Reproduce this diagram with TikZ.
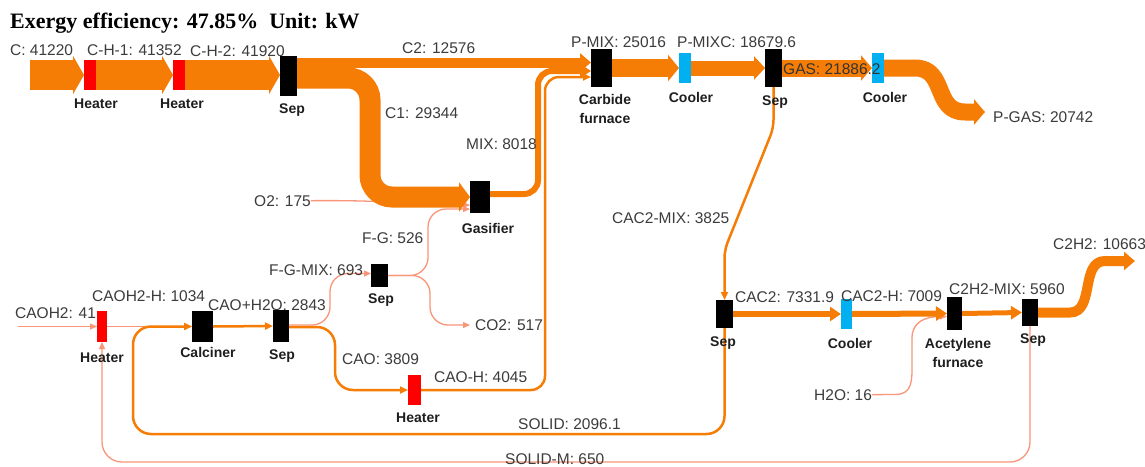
\documentclass[tikz,border=0pt]{standalone}
\usepackage{fontspec}
\setmainfont{Liberation Sans}
\newfontfamily\titlefont{Liberation Serif}
\usetikzlibrary{arrows.meta,calc}
\definecolor{band}{RGB}{245,125,5}
\definecolor{thinc}{RGB}{250,150,120}
\definecolor{heat}{RGB}{255,0,0}
\definecolor{cool}{RGB}{0,176,240}
\definecolor{txt}{RGB}{60,60,60}
\definecolor{ulabc}{RGB}{30,30,30}
\pgfdeclarelayer{bg}
\pgfsetlayers{bg,main}
\tikzset{
  blkbox/.style={fill=black,inner sep=0,outer sep=0},
  heatbox/.style={fill=heat,inner sep=0,outer sep=0},
  coolbox/.style={fill=cool,inner sep=0,outer sep=0},
  ulab/.style={anchor=base,inner sep=0,font=\fontsize{14}{16}\selectfont\bfseries,text=ulabc},
  flab/.style={anchor=base west,inner sep=0,font=\fontsize{15.5}{17}\selectfont,text=txt},
  bandflow/.style={draw=band,line width=#1,-{Triangle[length=11pt,width=8pt 1]}},
  flow/.style={draw=band,line width=2.5pt,-{Triangle[length=8pt,width=7pt]}},
  thinflow/.style={draw=thinc,line width=1.3pt,-{Triangle[length=7pt,width=6pt]}}
}
\begin{document}
\begin{tikzpicture}[x=1pt,y=-1pt]
\begin{pgfonlayer}{bg}
\fill[white] (0,0) rectangle (1145,466);
\end{pgfonlayer}
\useasboundingbox (0,0) rectangle (1145,466);

% title
\node[anchor=base west,inner sep=0,font=\titlefont\fontsize{22}{24}\selectfont\bfseries] (title) at (10,28) {Exergy efficiency: 47.85\%\ \ Unit: kW};

% units
\node[heatbox,minimum width=12pt,minimum height=30pt] (heatA) at (90,75) {};
\node[heatbox,minimum width=12pt,minimum height=30pt] (heatB) at (179,75) {};
\node[blkbox,minimum width=17pt,minimum height=40pt] (sepA) at (288.5,76) {};
\node[blkbox,minimum width=20pt,minimum height=32pt] (gasif) at (480,197) {};
\node[blkbox,minimum width=21pt,minimum height=38pt] (carb) at (601.5,68) {};
\node[coolbox,minimum width=12pt,minimum height=30pt] (coolA) at (685,68) {};
\node[blkbox,minimum width=17pt,minimum height=38pt] (sepB) at (773.5,68) {};
\node[coolbox,minimum width=12pt,minimum height=30pt] (coolB) at (878,68) {};
\node[blkbox,minimum width=17pt,minimum height=28pt] (sepC) at (724.5,314) {};
\node[coolbox,minimum width=11pt,minimum height=30pt] (coolC) at (846.5,314) {};
\node[blkbox,minimum width=15pt,minimum height=33pt] (acet) at (954.5,313.5) {};
\node[blkbox,minimum width=16pt,minimum height=27pt] (sepD) at (1030,312.5) {};
\node[heatbox,minimum width=10pt,minimum height=31pt] (heatC) at (102,326.5) {};
\node[blkbox,minimum width=21pt,minimum height=31pt] (calcn) at (202.5,326.5) {};
\node[blkbox,minimum width=16pt,minimum height=32pt] (sepE) at (281,326) {};
\node[blkbox,minimum width=17pt,minimum height=23pt] (sepF) at (379.5,275.5) {};
\node[heatbox,minimum width=13pt,minimum height=30pt] (heatD) at (414.5,390) {};

% unit labels
\node[ulab] (lheatA) at (96,108) {Heater};
\node[ulab] (lheatB) at (182,108) {Heater};
\node[ulab] (lsepA) at (292,113) {Sep};
\node[ulab] (lgasif) at (488,233) {Gasifier};
\node[ulab] (lcarb1) at (605,104) {Carbide};
\node[ulab] (lcarb2) at (605,123) {furnace};
\node[ulab] (lcoolA) at (691,102) {Cooler};
\node[ulab] (lsepB) at (775,105) {Sep};
\node[ulab] (lcoolB) at (885,102) {Cooler};
\node[ulab] (lsepC) at (723,346) {Sep};
\node[ulab] (lcoolC) at (850,348) {Cooler};
\node[ulab] (lacet1) at (958,348) {Acetylene};
\node[ulab] (lacet2) at (958,367) {furnace};
\node[ulab] (lsepD) at (1033,343) {Sep};
\node[ulab] (lheatC) at (102,362) {Heater};
\node[ulab] (lcalcn) at (208,357) {Calciner};
\node[ulab] (lsepE) at (282,359) {Sep};
\node[ulab] (lsepF) at (381,303) {Sep};
\node[ulab] (lheatD) at (418,422) {Heater};

% flow labels
\node[flab] (fC) at (10,55.5) {C: 41220};
\node[flab] (fCH1) at (87,55.5) {C-H-1: 41352};
\node[flab] (fCH2) at (190,56) {C-H-2: 41920};
\node[flab] (fC2) at (402,53) {C2: 12576};
\node[flab] (fC1) at (385,118) {C1: 29344};
\node[flab] (fMIX) at (466,149) {MIX: 8018};
\node[flab] (fPMIX) at (571,47.5) {P-MIX: 25016};
\node[flab] (fPMIXC) at (677,47.5) {P-MIXC: 18679.6};
\node[flab] (fPGAS) at (993,122.5) {P-GAS: 20742};
\node[flab] (o2Lab) at (254,206) {O2: 175};
\node[flab] (fFG) at (362,243.5) {F-G: 526};
\node[flab] (fFGMIX) at (269,275) {F-G-MIX: 693};
\node[flab] (fCAOH2O) at (208,310) {CAO+H2O: 2843};
\node[flab] (fCO2) at (475,330.5) {CO2: 517};
\node[flab] (fCAOH2) at (15,318.5) {CAOH2: 41};
\node[flab] (fCAOH2H) at (92,301.5) {CAOH2-H: 1034};
\node[flab] (fCAO) at (342,364) {CAO: 3809};
\node[flab] (fCAOH) at (434,382.5) {CAO-H: 4045};
\node[flab] (fSOLID) at (518,429.5) {SOLID: 2096.1};
\node[flab] (fSOLIDM) at (505,464) {SOLID-M: 650};
\node[flab] (fCAC2MIX) at (612,223.5) {CAC2-MIX: 3825};
\node[flab] (fCAC2) at (735,302.5) {CAC2: 7331.9};
\node[flab] (fCAC2H) at (841,301.5) {CAC2-H: 7009};
\node[flab] (fC2H2MIX) at (949,294) {C2H2-MIX: 5960};
\node[flab] (fC2H2) at (1053,249.5) {C2H2: 10663};
\node[flab] (h2oLab) at (814,400) {H2O: 16};
\node[flab,text=black!80] (fGAS) at (783,74.5) {GAS: 21886.2};

% free ends
\coordinate (cIn) at (30,75);
\coordinate (caohIn) at (18,326.5);
\coordinate (pgasEnd) at (985,112);
\coordinate (c2h2End) at (1135,261);
\coordinate (co2End) at (470,325);

\begin{pgfonlayer}{bg}
% thin flows
\draw[thinflow] (o2Lab.east) .. controls (400,200) and (400,205) .. ($(gasif.west)+(0,8)$);
\draw[thinflow,rounded corners=18pt] (sepF.east) -| (428,209) -- ($(gasif.west)+(0,12)$);
\draw[thinflow,rounded corners=18pt] (sepF.east) -| (430,325) -- (co2End);
\draw[thinflow,rounded corners=18pt] ($(sepE.east)+(0,-1)$) -| (330,273.5) -- ($(sepF.west)+(0,-2)$);
\draw[thinflow] (caohIn) -- (heatC.west);
\draw[thinflow] (heatC.east) -- (calcn.west);
\draw[thinflow,rounded corners=20pt] (sepD.south) |- (102,462) -- (heatC.south);
\draw[thinflow] (h2oLab.east) -- (895,394.5) .. controls (913,394.5) and (912,380) .. (912,362) -- (912,338) .. controls (912,322) and (925,316.5) .. ($(acet.west)+(0,3)$);
% medium flows
\draw[flow] (calcn.east) -- (sepE.west);
\draw[flow,rounded corners=18pt] ($(sepE.east)+(0,1)$) -| (335,390) -- (heatD.west);
\draw[flow,rounded corners=18pt] (sepC.south) |- (133,434) |- (calcn.west);
\draw[flow,rounded corners=8pt] (sepB.south) -- (773.5,128) -- (724.5,250) -- (sepC.north);
\draw[flow,rounded corners=14pt] (heatD.east) -| (545,77) -- ($(carb.west)+(0,9)$);
% bands
\draw[bandflow=30pt] (cIn) -- (heatA.west);
\draw[bandflow=30pt] (heatA.east) -- (heatB.west);
\draw[bandflow=30pt] (heatB.east) -- ($(sepA.west)+(0,-1)$);
\draw[bandflow=10pt] ($(sepA.east)+(0,-13.5)$) -- ($(carb.west)+(0,-5.5)$);
\draw[bandflow=21pt,rounded corners=22pt] ($(sepA.east)+(0,2)$) -| (370,197) -- (gasif.west);
\draw[bandflow=6pt,rounded corners=14pt] ($(gasif.east)+(0,-3)$) -| (538,71) -- ($(carb.west)+(0,3)$);
\draw[bandflow=18pt] (carb.east) -- (coolA.west);
\draw[bandflow=15pt] (coolA.east) -- (sepB.west);
\draw[bandflow=17pt] (sepB.east) -- (coolB.west);
\draw[bandflow=17pt] (coolB.east) -- (915,68) .. controls (947,68) and (933,112) .. (965,112) -- (pgasEnd);
\draw[bandflow=6pt] (sepC.east) -- (coolC.west);
\draw[bandflow=6pt] (coolC.east) -- (acet.west);
\draw[bandflow=5pt] (acet.east) -- (sepD.west);
\draw[bandflow=10pt] (sepD.east) -- (1070,312.5) .. controls (1095,312.5) and (1080,261) .. (1105,261) -- (c2h2End);
\end{pgfonlayer}
\end{tikzpicture}
\end{document}
